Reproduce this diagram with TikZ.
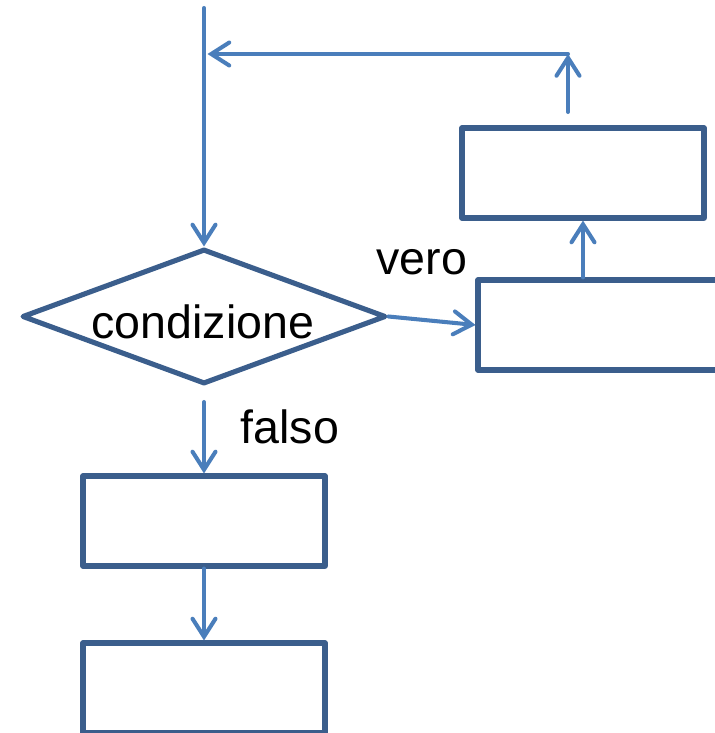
\documentclass[tikz,border=0pt]{standalone}
\usepackage{fontspec}
\setmainfont{Liberation Sans}
\usetikzlibrary{shapes.geometric,arrows.meta}
\definecolor{bordo}{HTML}{3B5E8C}
\definecolor{linea}{HTML}{4A7EBB}
\tikzset{
  blocco/.style={draw=bordo, line width=2.9pt, line join=round, rectangle,
    minimum width=4.84cm, minimum height=1.8cm, inner sep=0pt},
  scelta/.style={draw=bordo, line width=2.9pt, line join=round, diamond, aspect=2.7,
    minimum width=7.28cm, minimum height=2.7cm, inner sep=0pt},
  freccia/.style={draw=linea, line width=2.3pt, line cap=round, line join=round,
    -{Straight Barb[length=0.36cm,width=0.46cm,line cap=round]}},
  etichetta/.style={font=\fontsize{26.5}{30}\selectfont, inner sep=0pt}
}
\begin{document}
\begin{tikzpicture}[x=0.02cm, y=-0.02cm]
		\useasboundingbox (0,0) rectangle (714,733);
		% nodi
		\node [scelta] (cond) at (204,316.5) {};
		\node [etichetta] at (203,322) {condizione};
		\node [blocco] (sopra) at (583,173) {};
		\node [blocco] (vero) at (599,325) {};
		\node [blocco] (falso1) at (204,521) {};
		\node [blocco] (falso2) at (204,688) {};
		\node [etichetta] (tv) at (422,262) {vero};
		\node [etichetta] (tf) at (290,427) {falso};
		% punti del ciclo
		\coordinate (inizio) at (204,8);
		\coordinate (giunto) at (204,54);
		\coordinate (angolo) at (568,54);
		\coordinate (uscita) at (568,112);
		\coordinate (sotto) at (204,402);
		% collegamenti
		\draw [freccia] (inizio) -- (cond.north);
		\draw [freccia] (uscita) -- (angolo);
		\draw [freccia] (angolo) -- ([xshift=2pt]giunto);
		\draw [freccia] (cond.east) -- (vero.west);
		\draw [freccia] (vero.north -| sopra) -- (sopra.south);
		\draw [freccia] (sotto) -- (falso1.north);
		\draw [freccia] (falso1.south) -- (falso2.north);
		\end{tikzpicture}
\end{document}
